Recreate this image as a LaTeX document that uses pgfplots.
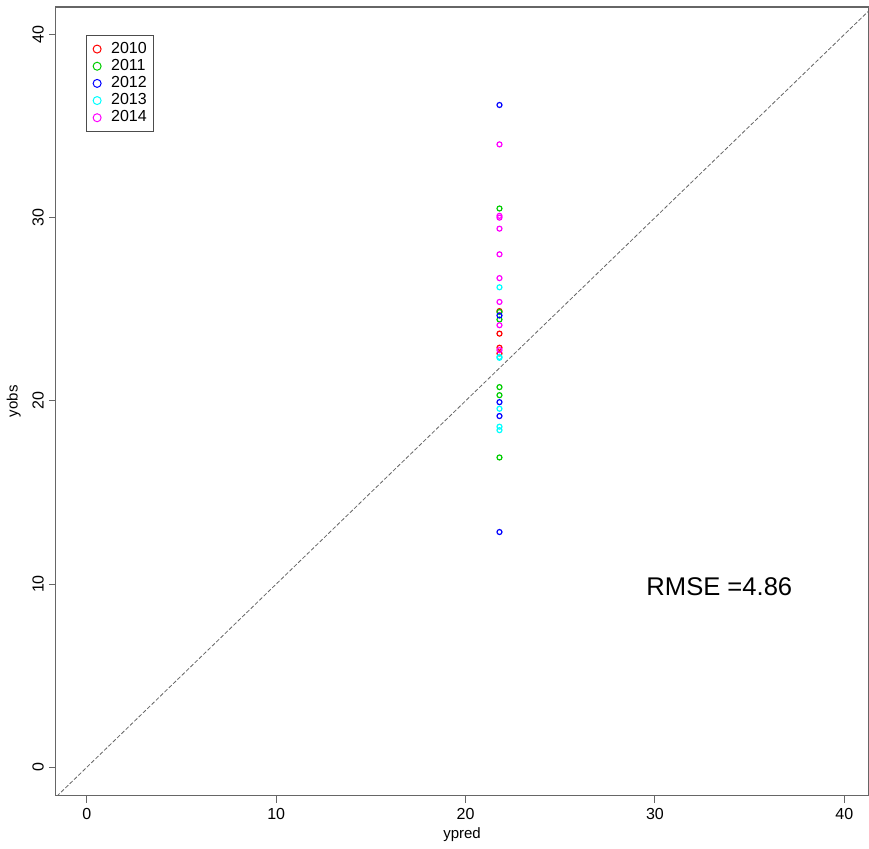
\documentclass[border=0pt]{standalone}
\usepackage{pgfplots}
\pgfplotsset{compat=1.18}
\usepackage{fontspec}
\setmainfont{Liberation Sans}
\definecolor{rgreen}{HTML}{00CD00}
\definecolor{rcyan}{HTML}{00FFFF}
\definecolor{rmagenta}{HTML}{FF00FF}
\definecolor{rblue}{HTML}{0000FF}
\definecolor{rred}{HTML}{FF0000}
\begin{document}
\begin{tikzpicture}[x=0.5pt,y=0.5pt]
\begin{axis}[
  name=main,
  scale only axis,
  width=406.5pt, height=394.5pt,
  xmin=-1.64, xmax=41.27, ymin=-1.55, ymax=41.5,
  xtick={0,10,20,30,40}, ytick={0,10,20,30,40},
  xtick pos=left, ytick pos=left,
  /pgf/number format/assume math mode=true,
  tick label style={font=\fontsize{8}{9.5}\selectfont},
  yticklabel style={rotate=90, anchor=south, yshift=-1pt},
  xticklabel style={yshift=0.5pt},
  tick align=outside, major tick length=3.5pt,
  every tick/.style={black!60, line width=0.5pt},
  axis line style={black!60, line width=0.6pt},
  xlabel={ypred}, ylabel={yobs},
  label style={font=\fontsize{7.5}{9}\selectfont},
  xlabel style={yshift=3pt},
  ylabel style={yshift=-1pt},
  clip=true,
  legend style={at={(0.0369,0.965)}, anchor=north west, draw=black!70, line width=0.4pt,
    font=\fontsize{8}{9.5}\selectfont, inner sep=1.5pt, row sep=-2.5pt,
    cells={anchor=west}},
  legend cell align=left,
  legend image code/.code={\path[draw=none,fill=none] (0pt,0pt) -- (9pt,0pt); \draw[#1, mark size=2pt, line width=0.5pt] plot coordinates {(4pt,0pt)};},
]
\addplot[only marks, mark=o, mark size=1.25pt, rred, line width=0.6pt] coordinates {
(21.79,24.9) (21.79,23.67) (21.79,22.9) (21.79,22.59)};
\addlegendentry{2010}
\addplot[only marks, mark=o, mark size=1.25pt, rgreen, line width=0.6pt] coordinates {
(21.79,30.5) (21.79,24.85) (21.79,24.44) (21.79,20.75) (21.79,20.31) (21.79,16.91)};
\addlegendentry{2011}
\addplot[only marks, mark=o, mark size=1.25pt, rblue, line width=0.6pt] coordinates {
(21.79,36.15) (21.79,24.66) (21.79,19.93) (21.79,19.17) (21.79,12.84)};
\addlegendentry{2012}
\addplot[only marks, mark=o, mark size=1.25pt, rcyan, line width=0.6pt] coordinates {
(21.79,26.2) (21.79,22.4) (21.79,22.35) (21.79,19.57) (21.79,18.59) (21.79,18.4)};
\addlegendentry{2013}
\addplot[only marks, mark=o, mark size=1.25pt, rmagenta, line width=0.6pt] coordinates {
(21.79,34.0) (21.79,30.1) (21.79,30.0) (21.79,29.4) (21.79,28.0) (21.79,26.7) (21.79,25.4) (21.79,24.13) (21.79,22.77)};
\addlegendentry{2014}
\addplot[black!60, line width=0.4pt, dash pattern=on 2pt off 1pt, forget plot] coordinates {(-5,-5) (50,50)};
\node at (axis cs:33.4,9.87) {\fontsize{12.8}{15}\selectfont RMSE =4.86};
\end{axis}
\path ([yshift=3.5pt]main.north west) -- ([yshift=3.5pt]main.north east);
\end{tikzpicture}
\end{document}
